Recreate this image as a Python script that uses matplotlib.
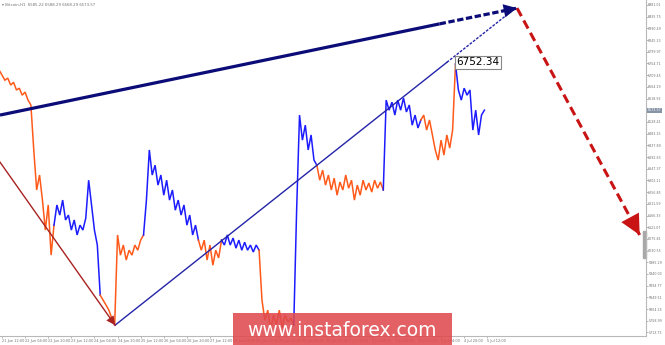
import matplotlib.pyplot as plt
import numpy as np
from matplotlib.patches import Rectangle

# Bitcoin H1 closes, grouped by wave segment (2-hour grid), start hour from 21 Jun 12:00
seg_starts = [-2, 36, 68, 98, 136, 152, 178, 202, 218, 264, 290, 314]
seg_colors = ['#ff5a1a', '#1c1cff', '#ff5a1a', '#1c1cff', '#ff5a1a', '#1c1cff',
              '#ff5a1a', '#1c1cff', '#ff5a1a', '#1c1cff', '#ff5a1a', '#1c1cff']
seg_prices = [
    [6729, 6710, 6690, 6698, 6671, 6682, 6652, 6659, 6632, 6644, 6613, 6594,
     6420, 6265, 6323, 6226, 6110, 6207, 6013, 6129],
    [6129, 6207, 6168, 6226, 6149, 6168, 6110, 6149, 6091, 6129, 6110, 6156,
     6303, 6207, 6110, 6052, 5858],
    [5858, 5839, 5820, 5800, 5769, 5742, 6091, 6013, 6052, 5994, 6032, 6013,
     6052, 6032, 6071, 6091],
    [6091, 6226, 6420, 6323, 6361, 6284, 6323, 6245, 6303, 6226, 6265, 6187,
     6226, 6168, 6207, 6129, 6168, 6091, 6129, 6071],
    [6071, 6032, 6071, 5994, 6052, 5974, 6032, 6002, 6071],
    [6071, 6052, 6091, 6052, 6079, 6040, 6071, 6032, 6063, 6032, 6052, 6025,
     6052, 6032],
    [6032, 5839, 5761, 5800, 5723, 5781, 5742, 5800, 5731, 5781, 5754, 5769, 5742],
    [5742, 6187, 6555, 6458, 6516, 6420, 6478, 6381, 6361],
    [6361, 6303, 6342, 6284, 6323, 6265, 6311, 6245, 6296, 6265, 6323, 6272,
     6303, 6226, 6284, 6245, 6303, 6265, 6292, 6257, 6303, 6272, 6296, 6265],
    [6265, 6613, 6574, 6605, 6555, 6613, 6574, 6621, 6567, 6594, 6516, 6555,
     6505, 6536],
    [6536, 6555, 6497, 6536, 6478, 6420, 6381, 6458, 6400, 6478, 6427, 6497, 6752.34],
    [6752.34, 6652, 6613, 6659, 6632, 6652, 6497, 6574, 6478, 6555, 6574],
]

# wave lines (hour, price)
navy_h = [-1.4, 303, 356.6]
navy_p = [6555, 6908, 6969]
thin_h = [78.3, 308, 353]
thin_p = [5742, 6759, 6958]
red_h = [-1.4, 78.3]
red_p = [6373, 5742]
fc_h = [356.6, 441.5]
fc_p = [6969, 6091]

y_ticks = [6981.01, 6935.75, 6890.49, 6845.23, 6799.97, 6754.71, 6709.45, 6664.19,
           6618.93, 6528.41, 6483.15, 6437.89, 6392.63, 6347.37, 6302.11,
           6256.85, 6211.59, 6166.33, 6121.07, 6075.81, 6030.55, 5985.29, 5940.03,
           5894.77, 5849.51, 5804.25, 5758.99, 5713.73]
x_labels = ['21 Jun 12:00', '22 Jun 04:00', '22 Jun 20:00', '23 Jun 12:00',
            '24 Jun 04:00', '24 Jun 20:00', '25 Jun 12:00', '26 Jun 04:00',
            '26 Jun 20:00', '27 Jun 12:00', '28 Jun 04:00', '28 Jun 20:00',
            '29 Jun 12:00', '30 Jun 04:00', '30 Jun 20:00', '1 Jul 12:00',
            '2 Jul 04:00', '2 Jul 20:00', '3 Jul 12:00', '4 Jul 04:00',
            '4 Jul 20:00', '5 Jul 12:00']
last_price = 6573.57
peak_price = 6752.34

fig = plt.figure(figsize=(6.65, 3.45), dpi=100)
ax = fig.add_axes([0, 9 / 345, 646 / 665, 336 / 345])
ax.set_xlim(-1.385, 445.9)
ax.set_ylim(5700, 7000.35)

for s, c, p in zip(seg_starts, seg_colors, seg_prices):
    h = s + 2 * np.arange(len(p))
    ax.plot(h, p, color=c, lw=1.1, solid_joinstyle='miter')


def arrow_head(h, p, dh, dp, color, size):
    ann = ax.annotate('', xy=(h, p), xytext=(h - dh, p - dp),
                      arrowprops=dict(arrowstyle='-|>', mutation_scale=size,
                                      color=color, lw=0, shrinkA=0, shrinkB=0))
    ann.arrow_patch.set_clip_on(False)


# thick navy trend line
ax.plot(navy_h[:2], navy_p[:2], color='#0c0c78', lw=2.3, solid_capstyle='butt')
ax.plot(navy_h[1:], navy_p[1:], color='#0c0c78', lw=2.3, linestyle=(0, (2, 0.8)))
arrow_head(navy_h[2], navy_p[2], 12, 13.8, '#0c0c78', 24)

# thin blue wave line
ax.plot(thin_h[:2], thin_p[:2], color='#2424a8', lw=1.0)
ax.plot(thin_h[1:], thin_p[1:], color='#2424a8', lw=1.0, linestyle=(0, (2, 1)))

# dark red wave line
ax.plot(red_h, red_p, color='#a82222', lw=1.0)
arrow_head(red_h[1], red_p[1], 6, -47.4, '#a82222', 16)

# red dashed forecast
ax.plot(fc_h, fc_p, color='#c81414', lw=2.2, linestyle=(0, (3, 1.6)))
arrow_head(fc_h[1], fc_p[1], 10, -103.4, '#c81414', 36)

# peak label
ax.text(314.5, peak_price + 7, f'{peak_price:.2f}', fontsize=7.5, va='center', ha='left',
        bbox=dict(boxstyle='square,pad=0.15', fc='white', ec='#888888', lw=0.8))

# axes styling
for side in ['top', 'left']:
    ax.spines[side].set_visible(False)
for side in ['right', 'bottom']:
    ax.spines[side].set_color('#b8b8b8')
    ax.spines[side].set_linewidth(0.8)
ax.yaxis.tick_right()
ax.set_yticks(y_ticks)
ax.set_yticklabels([f'{v:.2f}' for v in y_ticks])
ax.set_xticks(16 * np.arange(len(x_labels)))
ax.set_xticklabels(x_labels, ha='left')
ax.tick_params(axis='both', labelsize=2.5, colors='#9a9a9a', labelcolor='#707070',
               length=1.5, width=0.5, pad=0.6)
ax.tick_params(axis='y', labelsize=2.3, length=1.2, pad=0.4)

# current price marker on the right axis
ax.text(1.002, (last_price - 5700) / 1300.35, f'{last_price:.2f}', transform=ax.transAxes,
        fontsize=2.3, color='white', va='center', ha='left',
        bbox=dict(boxstyle='square,pad=0.2', fc='#8794a6', ec='none'))
ax.add_patch(Rectangle((0.995, (6000 - 5700) / 1300.35), 0.005, 27 / 336,
                       transform=ax.transAxes, color='#a8a8a8', clip_on=False, zorder=1))

fig.text(2 / 665, 1 - 5 / 345, '\u25be Bitcoin,H1  6585.22 6588.29 6568.29 6573.57',
         fontsize=2.8, color='#707070', va='center', ha='left')

# watermark
fig.patches.append(Rectangle((233 / 665, 0), 219 / 665, 32 / 345, transform=fig.transFigure,
                             facecolor='#e04a4e', alpha=0.88, edgecolor='none'))
fig.text(342 / 665, 15 / 345, 'www.instaforex.com', fontsize=13.5, color='white',
         ha='center', va='center')

fig.savefig('out.png', dpi=100, facecolor='white')
